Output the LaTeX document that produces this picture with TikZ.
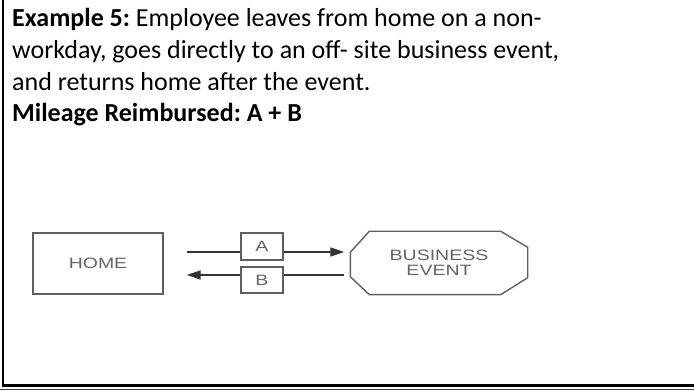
\documentclass[tikz,border=0pt]{standalone}
\usepackage{fontspec}
\setmainfont{Carlito}
\newfontfamily\diagfont[FakeStretch=1.3]{Liberation Sans}
\usetikzlibrary{arrows.meta}
\usetikzlibrary{positioning}
\usetikzlibrary{backgrounds}

\definecolor{linegray}{RGB}{95,95,95}
\definecolor{textgray}{RGB}{100,100,100}
\definecolor{rulered}{RGB}{125,35,35}

\tikzset{
  place/.style={draw=linegray, line width=1.4pt, fill=white, inner sep=0pt,
    font=\diagfont\fontsize{15}{15}\selectfont, text=textgray},
  legbox/.style={place, minimum width=42pt, minimum height=27pt},
  trip/.style={draw=black!80, line width=1.2pt, -{Triangle[length=14pt,width=9pt]}}
}
\frenchspacing

\begin{document}
\begin{tikzpicture}[x=1pt,y=1pt]
  \useasboundingbox (0,0) rectangle (694,391);
  % frame
  \draw[line width=2pt] (3,391) -- (3,5.5);
  \draw[line width=2.5pt] (2,5.5) -- (694,5.5);
  \draw[rulered, line width=1pt] (0,1) -- (694,1);

  \node[anchor=base west, align=left, inner sep=0pt,
        font=\fontsize{26}{31.7}\selectfont] (title) at (12,269)
    {\textbf{Example 5:} Employee leaves from home on a non-\\
     workday, goes directly to an off- site business event,\\
     and returns home after the event.\\
     \textbf{Mileage Reimbursed: A + B}};

  \node[place, minimum width=130pt, minimum height=61pt] (home) at (98,127.5) {HOME};
  \node[place, draw=none, fill=none, minimum width=176pt, minimum height=62pt,
        align=center] (event) at (439,128) {BUSINESS\\EVENT};
  \node[legbox] (legA) at (262,144.5) {A};
  \node[legbox, minimum height=26pt] (legB) at (262,111) {B};

  \draw[place, fill=none]
    ([xshift=19pt]event.north west) -- ([xshift=-27pt]event.north east)
    -- ([yshift=-16pt]event.north east) -- ([yshift=17pt]event.south east)
    -- ([xshift=-27pt]event.south east) -- ([xshift=19pt]event.south west)
    -- ([yshift=18pt]event.south west) -- ([yshift=-21pt]event.north west)
    -- cycle;

  \begin{scope}[on background layer]
    \draw[trip, shorten <=23pt, shorten >=6pt]
      ([yshift=11.5pt]home.east) -- ([yshift=11pt]event.west);
    \draw[trip, shorten <=6pt, shorten >=23pt]
      ([yshift=-12pt]event.west) -- ([yshift=-11.5pt]home.east);
  \end{scope}
\end{tikzpicture}
\end{document}
